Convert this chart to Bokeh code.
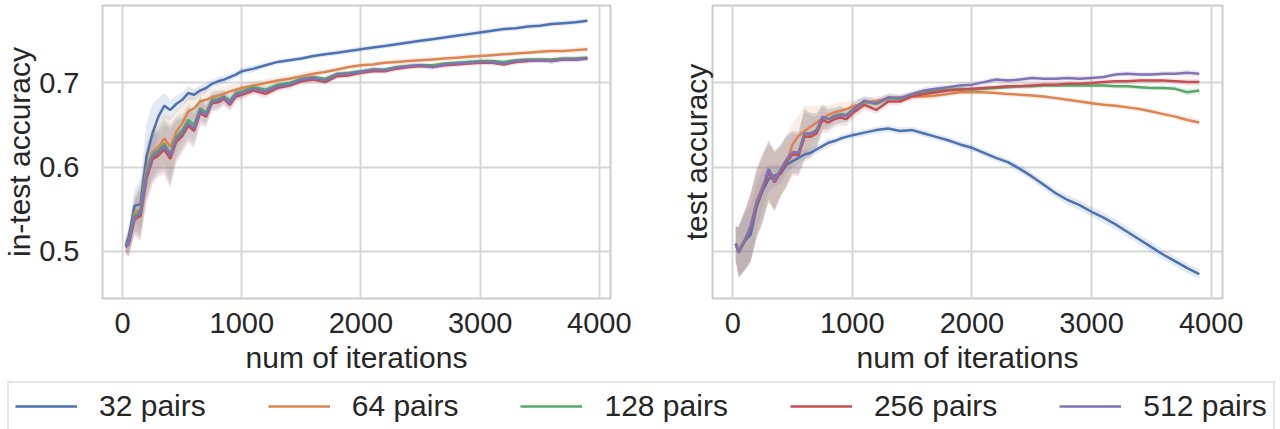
import numpy as np
from bokeh.plotting import figure
from bokeh.models import Range1d, FixedTicker, Legend, LegendItem
from bokeh.layouts import column, row
from bokeh.embed import file_html
from bokeh.resources import INLINE

# ---------------- data ----------------
ITER = [25, 50, 100, 150, 200, 250, 300, 350, 400, 450,
        500, 550, 600, 650, 700, 750, 800, 850, 900, 950,
        1000, 1100, 1200, 1300, 1400, 1500, 1600, 1700, 1800, 1900,
        2000, 2100, 2200, 2300, 2400, 2500, 2600, 2700, 2800, 2900,
        3000, 3100, 3200, 3300, 3400, 3500, 3600, 3700, 3800, 3900]

SERIES = ["32 pairs", "64 pairs", "128 pairs", "256 pairs", "512 pairs"]
COLORS = ["#4c72b0", "#dd8452", "#55a868", "#c44e52", "#8172b3"]

# in-test accuracy (left panel)
IN_32 = [0.507, 0.516, 0.554, 0.556, 0.612, 0.640, 0.660, 0.673, 0.668, 0.675,
         0.680, 0.688, 0.686, 0.691, 0.694, 0.699, 0.702, 0.704, 0.707, 0.710,
         0.714, 0.717, 0.721, 0.725, 0.727, 0.729, 0.732, 0.734, 0.736, 0.738,
         0.740, 0.742, 0.744, 0.746, 0.748, 0.750, 0.752, 0.754, 0.756, 0.758,
         0.760, 0.762, 0.764, 0.765, 0.767, 0.768, 0.770, 0.771, 0.772, 0.774]
IN_64 = [0.507, 0.510, 0.546, 0.550, 0.598, 0.618, 0.624, 0.634, 0.624, 0.642,
         0.652, 0.666, 0.670, 0.678, 0.680, 0.683, 0.685, 0.687, 0.690, 0.692,
         0.694, 0.697, 0.700, 0.703, 0.705, 0.708, 0.711, 0.713, 0.716, 0.719,
         0.721, 0.722, 0.724, 0.725, 0.726, 0.727, 0.728, 0.729, 0.730, 0.731,
         0.732, 0.733, 0.734, 0.735, 0.736, 0.737, 0.738, 0.738, 0.739, 0.740]
IN_128 = [0.506, 0.510, 0.543, 0.548, 0.594, 0.615, 0.620, 0.628, 0.616, 0.636,
          0.644, 0.656, 0.650, 0.670, 0.665, 0.680, 0.681, 0.684, 0.679, 0.688,
          0.690, 0.695, 0.692, 0.698, 0.700, 0.705, 0.707, 0.705, 0.711, 0.712,
          0.714, 0.716, 0.716, 0.719, 0.720, 0.721, 0.721, 0.723, 0.724, 0.725,
          0.726, 0.726, 0.725, 0.727, 0.728, 0.728, 0.728, 0.729, 0.729, 0.730]
IN_256 = [0.505, 0.508, 0.538, 0.542, 0.586, 0.609, 0.614, 0.621, 0.610, 0.630,
          0.637, 0.649, 0.643, 0.664, 0.660, 0.676, 0.677, 0.681, 0.674, 0.684,
          0.686, 0.691, 0.687, 0.694, 0.697, 0.702, 0.704, 0.701, 0.708, 0.709,
          0.712, 0.714, 0.714, 0.717, 0.719, 0.720, 0.719, 0.721, 0.722, 0.723,
          0.724, 0.724, 0.722, 0.725, 0.726, 0.727, 0.726, 0.728, 0.728, 0.729]
IN_512 = [0.506, 0.509, 0.540, 0.545, 0.590, 0.612, 0.617, 0.625, 0.613, 0.633,
          0.640, 0.652, 0.646, 0.667, 0.662, 0.678, 0.679, 0.683, 0.676, 0.686,
          0.688, 0.693, 0.690, 0.696, 0.698, 0.704, 0.706, 0.703, 0.710, 0.711,
          0.713, 0.716, 0.715, 0.718, 0.720, 0.721, 0.719, 0.722, 0.723, 0.724,
          0.725, 0.725, 0.723, 0.726, 0.727, 0.727, 0.726, 0.728, 0.728, 0.729]

# test accuracy (right panel)
TE_32 = [0.509, 0.499, 0.512, 0.520, 0.553, 0.572, 0.586, 0.590, 0.592, 0.603,
         0.607, 0.611, 0.615, 0.617, 0.621, 0.625, 0.629, 0.631, 0.634, 0.636,
         0.638, 0.641, 0.644, 0.646, 0.643, 0.644, 0.640, 0.636, 0.632, 0.627,
         0.623, 0.617, 0.611, 0.606, 0.598, 0.589, 0.579, 0.569, 0.561, 0.555,
         0.547, 0.540, 0.532, 0.523, 0.514, 0.505, 0.496, 0.488, 0.480, 0.473]
TE_64 = [0.509, 0.502, 0.514, 0.530, 0.560, 0.578, 0.592, 0.586, 0.596, 0.606,
         0.627, 0.637, 0.643, 0.648, 0.653, 0.658, 0.662, 0.665, 0.667, 0.669,
         0.672, 0.676, 0.679, 0.681, 0.683, 0.684, 0.684, 0.685, 0.687, 0.689,
         0.689, 0.689, 0.688, 0.687, 0.686, 0.685, 0.684, 0.682, 0.680, 0.678,
         0.676, 0.674, 0.673, 0.671, 0.669, 0.666, 0.663, 0.660, 0.656, 0.653]
TE_128 = [0.509, 0.500, 0.513, 0.528, 0.556, 0.574, 0.596, 0.583, 0.596, 0.608,
          0.617, 0.617, 0.639, 0.639, 0.644, 0.659, 0.657, 0.661, 0.663, 0.662,
          0.668, 0.678, 0.675, 0.682, 0.681, 0.686, 0.689, 0.691, 0.692, 0.693,
          0.692, 0.693, 0.694, 0.695, 0.696, 0.696, 0.697, 0.697, 0.697, 0.697,
          0.697, 0.697, 0.696, 0.696, 0.695, 0.694, 0.694, 0.693, 0.689, 0.691]
TE_256 = [0.509, 0.499, 0.512, 0.528, 0.555, 0.573, 0.594, 0.582, 0.594, 0.606,
          0.615, 0.614, 0.636, 0.636, 0.640, 0.656, 0.653, 0.657, 0.659, 0.657,
          0.664, 0.674, 0.668, 0.678, 0.678, 0.684, 0.687, 0.689, 0.691, 0.692,
          0.693, 0.694, 0.695, 0.696, 0.696, 0.697, 0.698, 0.698, 0.699, 0.699,
          0.700, 0.701, 0.702, 0.702, 0.703, 0.703, 0.703, 0.702, 0.701, 0.701]
TE_512 = [0.509, 0.499, 0.512, 0.530, 0.558, 0.575, 0.598, 0.584, 0.597, 0.609,
          0.618, 0.617, 0.640, 0.640, 0.643, 0.660, 0.657, 0.660, 0.662, 0.661,
          0.668, 0.679, 0.676, 0.683, 0.682, 0.687, 0.691, 0.693, 0.695, 0.697,
          0.698, 0.701, 0.704, 0.703, 0.704, 0.706, 0.705, 0.705, 0.706, 0.705,
          0.706, 0.707, 0.710, 0.711, 0.710, 0.710, 0.711, 0.711, 0.712, 0.711]

# half-widths of the shaded confidence bands
BAND_IN = [0.008, 0.015, 0.020, 0.030, 0.030, 0.030, 0.025, 0.030, 0.035, 0.025,
           0.020, 0.020, 0.020, 0.015, 0.012, 0.010, 0.010, 0.008, 0.008, 0.007,
           0.006, 0.005, 0.005, 0.004, 0.004, 0.004, 0.004, 0.003, 0.003, 0.003,
           0.003, 0.003, 0.003, 0.003, 0.003, 0.003, 0.003, 0.003, 0.003, 0.003,
           0.003, 0.003, 0.003, 0.003, 0.003, 0.003, 0.003, 0.003, 0.003, 0.003]
BAND_IN_32 = [0.008, 0.015, 0.020, 0.030, 0.040, 0.035, 0.022, 0.015, 0.012, 0.010,
              0.009, 0.008, 0.007, 0.006, 0.006, 0.005, 0.005, 0.005, 0.004, 0.004,
              0.004, 0.004, 0.003, 0.003, 0.003, 0.003, 0.003, 0.003, 0.003, 0.003,
              0.003, 0.003, 0.003, 0.003, 0.003, 0.003, 0.003, 0.003, 0.003, 0.003,
              0.003, 0.003, 0.003, 0.003, 0.003, 0.003, 0.003, 0.003, 0.003, 0.003]
BAND_TE = [0.020, 0.030, 0.035, 0.040, 0.040, 0.040, 0.035, 0.035, 0.030, 0.030,
           0.025, 0.025, 0.030, 0.025, 0.020, 0.015, 0.012, 0.010, 0.010, 0.008,
           0.008, 0.006, 0.005, 0.005, 0.004, 0.004, 0.004, 0.004, 0.003, 0.003,
           0.003, 0.003, 0.003, 0.003, 0.003, 0.003, 0.003, 0.003, 0.003, 0.003,
           0.003, 0.003, 0.003, 0.003, 0.003, 0.003, 0.003, 0.003, 0.004, 0.004]
BAND_TE_32 = [0.020, 0.030, 0.035, 0.035, 0.030, 0.022, 0.016, 0.013, 0.011, 0.009,
              0.008, 0.007, 0.006, 0.006, 0.005, 0.005, 0.005, 0.004, 0.004, 0.004,
              0.004, 0.004, 0.004, 0.004, 0.004, 0.004, 0.004, 0.004, 0.004, 0.004,
              0.004, 0.004, 0.004, 0.004, 0.005, 0.005, 0.005, 0.005, 0.006, 0.006,
              0.006, 0.006, 0.006, 0.006, 0.006, 0.006, 0.006, 0.006, 0.006, 0.006]

X_TICKS = [0, 1000, 2000, 3000, 4000]
Y_TICKS = [0.5, 0.6, 0.7]

# ---------------- styling ----------------
FONT = "Liberation Sans"
TXT = "#262626"
GRID = "#d6d6d6"
FS_TICK = "29px"
FS_LAB = "30px"

y_range = Range1d(0.444, 0.792)


def make_panel(ylabel, show_ylabels, width, bl, br):
    p = figure(width=width, height=378, output_backend="svg", toolbar_location=None,
               x_range=Range1d(-169, 4094), y_range=y_range,
               min_border_left=bl, min_border_right=br, min_border_top=5,
               min_border_bottom=80)
    p.background_fill_color = "white"
    p.border_fill_color = "white"
    p.outline_line_color = "#cccccc"
    p.outline_line_width = 2
    p.xaxis.ticker = FixedTicker(ticks=X_TICKS)
    p.xgrid.ticker = FixedTicker(ticks=X_TICKS)
    p.ygrid.ticker = FixedTicker(ticks=Y_TICKS)
    for g in (p.xgrid, p.ygrid):
        g.grid_line_color = GRID
        g.grid_line_width = 2
    for ax in p.axis:
        ax.axis_line_color = None
        ax.major_tick_line_color = None
        ax.minor_tick_line_color = None
        ax.major_label_text_font = FONT
        ax.major_label_text_font_size = FS_TICK
        ax.major_label_text_color = TXT
        ax.axis_label_text_font = FONT
        ax.axis_label_text_font_size = FS_LAB
        ax.axis_label_text_color = TXT
        ax.axis_label_text_font_style = "normal"
    p.xaxis.axis_label = "num of iterations"
    p.xaxis.major_label_standoff = 8
    p.xaxis.axis_label_standoff = 5
    p.yaxis.axis_label = ylabel
    if show_ylabels:
        p.yaxis.ticker = FixedTicker(ticks=Y_TICKS)
        p.yaxis.major_label_standoff = 17
        p.yaxis.axis_label_standoff = 0
    else:
        p.yaxis.ticker = FixedTicker(ticks=[])
        p.yaxis.major_label_standoff = 0
        p.yaxis.axis_label_standoff = 0
    return p


def draw(p, values_list, bands):
    x = np.array(ITER, dtype=float)
    for vals, band, col in zip(values_list, bands, COLORS):
        v = np.array(vals)
        b = np.array(band)
        p.varea(x=x, y1=v - b, y2=v + b, fill_color=col, fill_alpha=0.15)
    for vals, col in zip(values_list, COLORS):
        p.line(x=ITER, y=vals, line_color=col, line_width=2.5)


p1 = make_panel("in-test accuracy", True, 640, 101, 30)
draw(p1, [IN_32, IN_64, IN_128, IN_256, IN_512],
     [BAND_IN_32, BAND_IN, BAND_IN, BAND_IN, BAND_IN])

p2 = make_panel("test accuracy", False, 640, 72, 58)
draw(p2, [TE_32, TE_64, TE_128, TE_256, TE_512],
     [BAND_TE_32, BAND_TE, BAND_TE, BAND_TE, BAND_TE])

# ---------------- legend strip ----------------
leg = figure(width=1280, height=51, output_backend="svg", toolbar_location=None,
             x_range=Range1d(0, 1), y_range=Range1d(0, 1),
             x_axis_type=None, y_axis_type=None,
             min_border_left=7, min_border_right=0, min_border_top=3, min_border_bottom=0)
leg.xgrid.visible = False
leg.ygrid.visible = False
leg.outline_line_color = None
items = []
for name, col in zip(SERIES, COLORS):
    r = leg.line(x=[5, 6], y=[5, 6], line_color=col, line_width=2.5)
    items.append(LegendItem(label=name, renderers=[r]))
legend = Legend(items=items, orientation="horizontal", location="top_left",
                margin=0, padding=6, spacing=62, glyph_width=62, glyph_height=30,
                label_height=30, label_standoff=22, label_text_font=FONT,
                label_text_font_size=FS_LAB, label_text_color=TXT,
                border_line_color="#cccccc", border_line_width=2,
                background_fill_alpha=1.0)
leg.add_layout(legend, "center")

layout = column(row(p1, p2), leg)

open("out.html", "w").write(file_html(layout, INLINE))
